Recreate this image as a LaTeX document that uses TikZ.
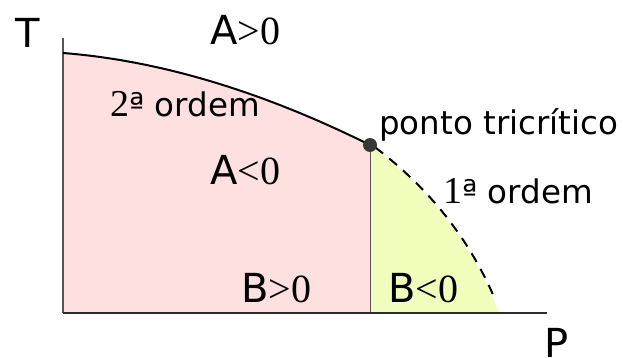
\documentclass[tikz,border=0pt]{standalone}
\usepackage{fontspec}
\newfontfamily\dvs{DejaVu Sans}
\newfontfamily\lser{Liberation Serif}
\definecolor{pinkfill}{RGB}{255,224,224}
\definecolor{yellowfill}{RGB}{241,253,187}
\definecolor{axisgray}{RGB}{85,85,85}
\definecolor{axisdark}{RGB}{45,45,45}
\definecolor{dotgray}{RGB}{55,55,55}
\tikzset{
  lbl/.style={inner sep=0pt, anchor=base west},
  big/.style={lbl, font=\fontsize{40}{48}\selectfont},
  small/.style={lbl, font=\fontsize{32.5}{38}\selectfont},
  solidcurve/.style={line width=2pt, black},
  dashcurve/.style={line width=2pt, black, dash pattern=on 10pt off 8pt, dash phase=-4pt},
}
\newcommand{\bigser}[1]{{\lser\fontsize{40}{48}\selectfont #1}}
\newcommand{\digser}[1]{{\lser\fontsize{38}{44}\selectfont #1}}
\begin{document}
\begin{tikzpicture}[x=1pt,y=-1pt]
\useasboundingbox (0,0) rectangle (623,358);
% coordinates
\coordinate (top) at (63,53);
\coordinate (tc) at (370,145);
\coordinate (foot) at (370,313);
\coordinate (orig) at (63,313);
\coordinate (pend) at (499,313);
\coordinate (dend) at (494,297);
\coordinate (yaxtop) at (63,38);
\coordinate (xaxend) at (547,313);
% regions
\fill[pinkfill] (top) .. controls (159,60.5) and (261.3,91) .. (tc) -- (foot) -- (orig) -- cycle;
\fill[yellowfill] (tc) .. controls (430,189.7) and (473,245.7) .. (pend) -- (foot) -- cycle;
% vertical separator
\draw[axisgray, line width=1pt] (tc) -- (foot);
% axes
\draw[axisgray, line width=1.6pt] (yaxtop) -- (orig);
\draw[axisdark, line width=1.6pt] (orig) -- (xaxend);
% phase boundaries
\draw[solidcurve] (top) .. controls (159,60.5) and (261.3,91) .. (tc);
\draw[dashcurve] (372,145) .. controls (427.2,186.1) and (468,236.7) .. (dend);
% tricritical point
\fill[dotgray] (tc) circle (7pt);
% labels
\node[big] (T) at (15,48) {\dvs T};
\node[big] (P) at (544,357) {\dvs P};
\node[big] (Apos) at (210,45) {{\dvs A}\bigser{>0}};
\node[big] (Aneg) at (210,185) {{\dvs A}\bigser{<0}};
\node[big] (Bpos) at (241,302) {{\dvs B}\bigser{>0}};
\node[big] (Bneg) at (388,302) {{\dvs B}\bigser{<0}};
\node[small] (second) at (110,117) {\digser{2}{\dvs ª ordem}};
\node[small] (first) at (443,203) {\digser{1}{\dvs ª ordem}};
\node[small] (tri) at (379,135) {\dvs ponto tricrítico};
\end{tikzpicture}
\end{document}
